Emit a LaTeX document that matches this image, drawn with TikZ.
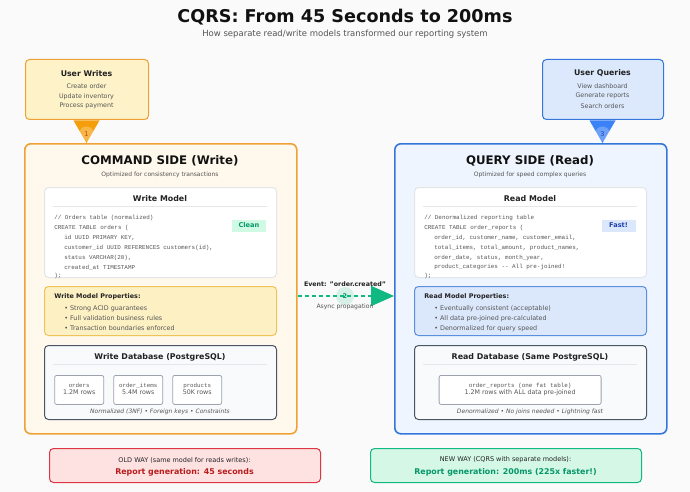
\documentclass[tikz,border=0pt]{standalone}
\usepackage{fontspec}
\setmainfont{DejaVu Sans}
\newfontfamily\codefont{Liberation Mono}
\usetikzlibrary{arrows.meta,calc}
\definecolor{bgc}{HTML}{FAFAFA}
\definecolor{titc}{HTML}{111111}
\definecolor{darkt}{HTML}{222222}
\definecolor{bodyt}{HTML}{555555}
\definecolor{oranB}{HTML}{EEA236}
\definecolor{oranF}{HTML}{FFF8EC}
\definecolor{oranT}{HTML}{F59E0B}
\definecolor{oranN}{HTML}{C2410C}
\definecolor{userOF}{HTML}{FEF3C8}
\definecolor{propOF}{HTML}{FDF1C4}
\definecolor{propOB}{HTML}{EFC35C}
\definecolor{blueB}{HTML}{3576DB}
\definecolor{blueF}{HTML}{EEF5FE}
\definecolor{blueT}{HTML}{3B82F6}
\definecolor{blueN}{HTML}{1E40AF}
\definecolor{userBF}{HTML}{DCE9FD}
\definecolor{propBF}{HTML}{DBE8FC}
\definecolor{propBB}{HTML}{5C8FDD}
\definecolor{wbox}{HTML}{FFFFFF}
\definecolor{wboxB}{HTML}{E3E5E8}
\definecolor{sepc}{HTML}{E5E7EB}
\definecolor{dbF}{HTML}{F8FAFC}
\definecolor{dbB}{HTML}{4B5563}
\definecolor{tblB}{HTML}{9CA3AF}
\definecolor{greenB}{HTML}{10B981}
\definecolor{greenF}{HTML}{D4F7E6}
\definecolor{greenT}{HTML}{059669}
\definecolor{badgeG}{HTML}{D1FAE5}
\definecolor{redB}{HTML}{DC3545}
\definecolor{redF}{HTML}{FEE2E2}
\definecolor{redT}{HTML}{B91C1C}
\newcommand\fsz[1]{\fontsize{#1}{#1}\selectfont}
\tikzset{
  txt/.style={inner sep=0pt, outer sep=0pt, text=bodyt},
  rbox/.style={rounded corners=4pt, line width=1pt, anchor=north west, inner sep=0pt},
  side/.style={rounded corners=6pt, line width=1.6pt, anchor=north west, inner sep=0pt},
  sidettl/.style={txt, text=titc, font=\bfseries\fsz{11.8}},
  sidesub/.style={txt, font=\fsz{6}},
  boxttl/.style={txt, text=darkt, font=\bfseries\fsz{7.9}},
  code/.style={txt, anchor=west, font=\codefont\fsz{5.9}},
  bul/.style={txt, anchor=west, font=\fsz{6.4}},
  captxt/.style={txt, font=\itshape\fsz{6}},
  badge/.style={inner sep=0pt, minimum width=34pt, minimum height=12pt, font=\bfseries\fsz{6.6}},
  tbl/.style={draw=tblB, fill=white, rounded corners=2pt, line width=0.8pt, anchor=north west, inner sep=0pt},
  numc/.style={circle, inner sep=0pt, minimum size=15pt},
  evt/.style={draw=greenB, line width=1.6pt, dash pattern=on 4pt off 3pt, -{Triangle[length=23pt,width=20pt]}},
}
\begin{document}
\begin{tikzpicture}[x=1pt,y=-1pt]
\fill[bgc] (0,0) rectangle (690,492);
\useasboundingbox (0,0) rectangle (690,492);

% title
\node[txt, text=titc, font=\bfseries\fsz{17.6}] (title) at (345,17) {CQRS: From 45 Seconds to 200ms};
\node[txt, font=\fsz{8.5}] (subtitle) at (345,34) {How separate read/write models transformed our reporting system};

% side panels
\node[side, draw=oranB, fill=oranF, minimum width=272pt, minimum height=290pt] (cmd) at (24,143) {};
\node[side, draw=blueB, fill=blueF, minimum width=272pt, minimum height=290pt] (qry) at (394,143) {};

% user boxes
\node[rbox, draw=oranB, fill=userOF, minimum width=123pt, minimum height=60pt] (uw) at (25,59) {};
\node[rbox, draw=blueB, fill=userBF, minimum width=121pt, minimum height=60pt] (uq) at (542,59) {};
\node[boxttl, font=\bfseries\fsz{7.8}] (uwt) at (86.5,73.5) {User Writes};
\node[txt, font=\fsz{6.3}] (uw1) at (86.5,86.3) {Create order};
\node[txt, font=\fsz{6.3}] (uw2) at (86.5,96.3) {Update inventory};
\node[txt, font=\fsz{6.3}] (uw3) at (86.5,106.3) {Process payment};
\node[boxttl, font=\bfseries\fsz{7.8}] (uqt) at (602.5,73.5) {User Queries};
\node[txt, font=\fsz{6.3}] (uq1) at (602.5,86.3) {View dashboard};
\node[txt, font=\fsz{6.3}] (uq2) at (602.5,96.3) {Generate reports};
\node[txt, font=\fsz{6.3}] (uq3) at (602.5,106.3) {Search orders};

% connectors 1 and 3
\coordinate (t1) at (uw.south -| 86.5,0);
\coordinate (t1e) at (cmd.north -| 86.5,0);
\fill[oranT] ($(t1)+(-13,0.5)$) -- ($(t1)+(13,0.5)$) -- (t1e) -- cycle;
\node[numc, fill=white, fill opacity=0.25, text opacity=1, text=oranN, font=\fsz{6.5}] (n1) at ($(t1e)+(0,-9)$) {1};
\coordinate (t3) at (uq.south -| 602.5,0);
\coordinate (t3e) at (qry.north -| 602.5,0);
\fill[blueT] ($(t3)+(-13,0.5)$) -- ($(t3)+(13,0.5)$) -- (t3e) -- cycle;
\node[numc, fill=white, fill opacity=0.25, text opacity=1, text=blueN, font=\fsz{6.5}] (n3) at ($(t3e)+(0,-9)$) {3};

% ---------- command side ----------
\node[sidettl] (cmdt) at (160,161) {COMMAND SIDE (Write)};
\node[sidesub] (cmds) at (160,175) {Optimized for consistency transactions};

\node[rbox, draw=wboxB, fill=wbox, minimum width=232pt, minimum height=90pt] (wm) at (44,187) {};
\node[boxttl] (wmt) at (160,199) {Write Model};
\draw[sepc, line width=0.6pt] (53,206.7) -- (267,206.7);
\node[code] (wc1) at (54.3,217.7) {// Orders table (normalized)};
\node[code] (wc2) at (54.3,227.7) {CREATE TABLE orders (};
\node[code] (wc3) at (64.3,237.7) {id UUID PRIMARY KEY,};
\node[code] (wc4) at (64.3,247.7) {customer\_id UUID REFERENCES customers(id),};
\node[code] (wc5) at (64.3,257.7) {status VARCHAR(20),};
\node[code] (wc6) at (64.3,267.3) {created\_at TIMESTAMP};
\node[code] (wc7) at (54.3,276.3) {);};
\node[badge, fill=badgeG, text=greenT] (clean) at (249,225.5) {Clean};

\node[rbox, draw=propOB, fill=propOF, minimum width=232pt, minimum height=49pt] (wp) at (44,286) {};
\node[bul, text=darkt, font=\bfseries\fsz{6.4}] (wpt) at (54.3,296.7) {Write Model Properties:};
\node[bul] (wp1) at (64.3,308.3) {• Strong ACID guarantees};
\node[bul] (wp2) at (64.3,318.3) {• Full validation business rules};
\node[bul] (wp3) at (64.3,328.3) {• Transaction boundaries enforced};

\node[rbox, draw=dbB, fill=dbF, minimum width=232pt, minimum height=74pt] (wdb) at (44,345) {};
\node[boxttl] (wdbt) at (160,357) {Write Database (PostgreSQL)};
\draw[sepc, line width=0.6pt] (53,364.5) -- (267,364.5);
\node[tbl, minimum width=49pt, minimum height=29pt] (tb1) at (54.3,375) {};
\node[tbl, minimum width=49pt, minimum height=29pt] (tb2) at (113.3,375) {};
\node[tbl, minimum width=49pt, minimum height=29pt] (tb3) at (172.3,375) {};
\node[txt, font=\codefont\fsz{5.8}] (tb1a) at ($(tb1.center)+(0,-4.3)$) {orders};
\node[txt, font=\fsz{6.3}] (tb1b) at ($(tb1.center)+(0,2.8)$) {1.2M rows};
\node[txt, font=\codefont\fsz{5.8}] (tb2a) at ($(tb2.center)+(0,-4.3)$) {order\_items};
\node[txt, font=\fsz{6.3}] (tb2b) at ($(tb2.center)+(0,2.8)$) {5.4M rows};
\node[txt, font=\codefont\fsz{5.8}] (tb3a) at ($(tb3.center)+(0,-4.3)$) {products};
\node[txt, font=\fsz{6.3}] (tb3b) at ($(tb3.center)+(0,2.8)$) {50K rows};
\node[captxt] (wcap) at (160,412) {Normalized (3NF) • Foreign keys • Constraints};

% ---------- query side ----------
\node[sidettl] (qryt) at (530,161) {QUERY SIDE (Read)};
\node[sidesub] (qrys) at (530,175) {Optimized for speed complex queries};

\node[rbox, draw=wboxB, fill=wbox, minimum width=232pt, minimum height=90pt] (rm) at (414,187) {};
\node[boxttl] (rmt) at (530,199) {Read Model};
\draw[sepc, line width=0.6pt] (423,206.7) -- (637,206.7);
\node[code] (rc1) at (424.3,217.7) {// Denormalized reporting table};
\node[code] (rc2) at (424.3,227.7) {CREATE TABLE order\_reports (};
\node[code] (rc3) at (434.3,237.7) {order\_id, customer\_name, customer\_email,};
\node[code] (rc4) at (434.3,247.7) {total\_items, total\_amount, product\_names,};
\node[code] (rc5) at (434.3,257.7) {order\_date, status, month\_year,};
\node[code] (rc6) at (434.3,267.3) {product\_categories -- All pre-joined!};
\node[code] (rc7) at (424.3,276.3) {);};
\node[badge, fill=propBF, text=blueN] (fast) at (618.5,225.5) {Fast!};

\node[rbox, draw=propBB, fill=propBF, minimum width=232pt, minimum height=49pt] (rp) at (414,286) {};
\node[bul, text=darkt, font=\bfseries\fsz{6.4}] (rpt) at (424.3,296.7) {Read Model Properties:};
\node[bul] (rp1) at (434.3,308.3) {• Eventually consistent (acceptable)};
\node[bul] (rp2) at (434.3,318.3) {• All data pre-joined pre-calculated};
\node[bul] (rp3) at (434.3,328.3) {• Denormalized for query speed};

\node[rbox, draw=dbB, fill=dbF, minimum width=232pt, minimum height=74pt] (rdb) at (414,345) {};
\node[boxttl] (rdbt) at (530,357) {Read Database (Same PostgreSQL)};
\draw[sepc, line width=0.6pt] (423,364.5) -- (637,364.5);
\node[tbl, minimum width=162pt, minimum height=29pt] (tbr) at (438.7,375) {};
\node[txt, font=\codefont\fsz{5.9}] (tbra) at ($(tbr.center)+(0,-4.3)$) {order\_reports (one fat table)};
\node[txt, font=\fsz{6.3}] (tbrb) at ($(tbr.center)+(0,2.8)$) {1.2M rows with ALL data pre-joined};
\node[captxt] (rcap) at (530,412) {Denormalized • No joins needed • Lightning fast};

% ---------- event ----------
\coordinate (es) at (cmd.east |- 0,296);
\coordinate (ee) at (qry.west |- 0,296);
\draw[evt] (es) -- (ee);
\node[numc, fill=greenB, fill opacity=0.15, text opacity=1, text=greenT, font=\bfseries\fsz{6.5}, minimum size=18pt] (n2) at (345,296) {2};
\node[txt, text=darkt, font=\bfseries\fsz{6.3}] (evl) at (345,284) {Event: "order.created"};
\node[txt, font=\fsz{6.1}] (evs) at (345,307) {Async propagation};

% ---------- bottom comparison ----------
\node[rbox, draw=redB, fill=redF, minimum width=271pt, minimum height=34pt] (old) at (49,448) {};
\node[txt, text=darkt, font=\fsz{6.5}] (oldt) at (184.5,460) {OLD WAY (same model for reads writes):};
\node[txt, text=redT, font=\bfseries\fsz{7.9}] (oldr) at (184.5,472.5) {Report generation: 45 seconds};
\node[rbox, draw=greenB, fill=greenF, minimum width=271pt, minimum height=34pt] (new) at (370,448) {};
\node[txt, text=darkt, font=\fsz{6.5}] (newt) at (505.5,460) {NEW WAY (CQRS with separate models):};
\node[txt, text=greenT, font=\bfseries\fsz{7.9}] (newr) at (505.5,472.5) {Report generation: 200ms (225x faster!)};
\end{tikzpicture}
\end{document}
